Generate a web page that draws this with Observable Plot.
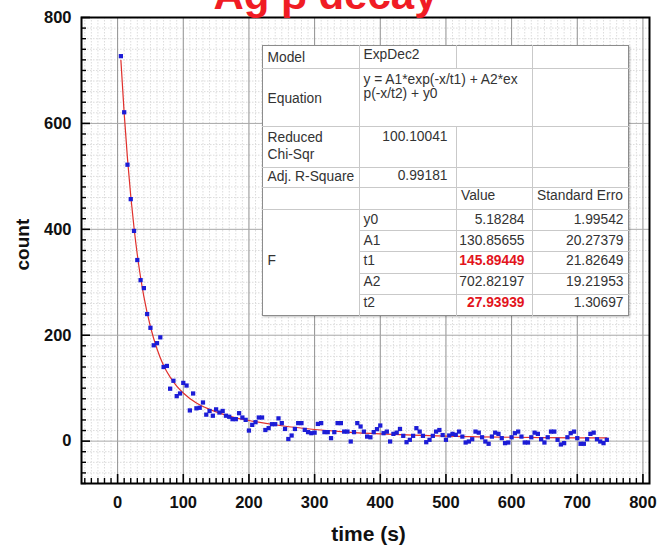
<!DOCTYPE html>
<html><head><meta charset="utf-8">
<script src="https://cdn.jsdelivr.net/npm/d3@7"></script>
<script src="https://cdn.jsdelivr.net/npm/@observablehq/plot@0.6"></script>
<style>
html,body{margin:0;padding:0;background:#fff;}
#wrap{position:relative;width:658px;height:549px;overflow:hidden;}
.cell{position:absolute;white-space:nowrap;font-family:"Liberation Sans",Arial,sans-serif;font-size:13.8px;color:#333;line-height:1;}
.ln{position:absolute;}
</style></head><body><div id="wrap"></div>
<script>
// ---- data ----
const times = [5,10,15,20,25,30,35,40,45,50,55,60,65,70,75,80,85,90,95,100,105,110,115,120,125,130,135,140,145,150,155,160,165,170,175,180,185,190,195,200,205,210,215,220,225,230,235,240,245,250,255,260,265,270,275,280,285,290,295,300,305,310,315,320,325,330,335,340,345,350,355,360,365,370,375,380,385,390,395,400,405,410,415,420,425,430,435,440,445,450,455,460,465,470,475,480,485,490,495,500,505,510,515,520,525,530,535,540,545,550,555,560,565,570,575,580,585,590,595,600,605,610,615,620,625,630,635,640,645,650,655,660,665,670,675,680,685,690,695,700,705,710,715,720,725,730,735,740,745];
const counts = [727,621,522,457,397,342,304,289,240,214,181,185,196,140,142,99,114,85,90,110,105,58,90,62,63,73,50,57,48,60,54,57,48,46,41.5,41.5,52.8,44.6,40.2,20,30.7,35.8,44.6,44.6,21,24.5,32,32,43,34,23,4,10.6,23,34,34,21.3,17,15,16,32.5,34,17,17,5.6,17,34,34,18,18,-0.7,17,34,27.6,18,8.6,7.3,17,22.6,29.5,15,18,-0.7,13.7,16,23,10,-2,2.5,10,24.5,18,10,-2,2.5,10,18,21,11.5,2.5,10.6,13.7,12,18,8.6,-2.6,-0.7,3.6,18,16,7.3,-0.7,-5,8.6,16,13.7,5.6,-3.8,-2.6,7.3,15,18,8.6,-2.6,-2.6,7.3,16,13.7,3.6,-2.6,7.3,18,18,2.5,-6.3,-3.8,7.3,15,18,5.6,-5,-5,3.6,13.7,16,3.6,-0.7,-3.8,2.5];
// fitted curve
const fitTimes = [5,10,15,20,25,30,35,40,50,60,70,80,90,100,120,140,160,180,200,250,300,350,400,450,500,550,600,650,700,745];
const fitCounts = [719,619,534,463,403,352,309,273,216,174,143,121,104,91,72,60,51,44,39,29,22,17,13.6,11.2,9.4,8.2,7.3,6.7,6.3,6.0];
const xTickLabels = [0,100,200,300,400,500,600,700,800];
const yTickLabels = [0,200,400,600,800];
const titleText = "Ag β decay";
const xLabel = "time (s)";
const yLabel = "count";
// fit report table
const fitModel = "ExpDec2";
const fitEquation = ["y = A1*exp(-x/t1) + A2*ex", "p(-x/t2) + y0"];
const redChiSqr = "100.10041";
const adjR2 = "0.99181";
const paramNames = ["y0","A1","t1","A2","t2"];
const paramValues = ["5.18284","130.85655","145.89449","702.82197","27.93939"];
const paramErrors = ["1.99542","20.27379","21.82649","19.21953","1.30697"];
const highlighted = ["t1","t2"];

// ---- chart ----
const W=658,H=549,mL=81,mR=9,mT=17,mB=66;
const xDom=[-55,810], yDom=[-80,800];
const pxY=(H-mT-mB)/(yDom[1]-yDom[0]);
const pxX=(W-mL-mR)/(xDom[1]-xDom[0]);
const pts = times.map((t,i)=>({t, c: counts[i]}));
const fit = fitTimes.map((t,i)=>({t, c: fitCounts[i]}));
const xMinor = d3.range(-50, 801, 10).filter(v=>v%100!==0);
const yMinor = d3.range(-80, 801, 20).filter(v=>v%200!==0);
const font = "'Liberation Sans', Arial, sans-serif";

const chart = Plot.plot({
  width: W, height: H,
  marginLeft: mL, marginRight: mR, marginTop: mT, marginBottom: mB,
  x: {domain: xDom}, y: {domain: yDom},
  style: {fontFamily: font, overflow: "visible", background: "#fff"},
  marks: [
    Plot.ruleX(xMinor, {stroke:"#dcdcdc", strokeDasharray:"1.5,1.5", strokeWidth:1}),
    Plot.ruleY(yMinor, {stroke:"#dcdcdc", strokeDasharray:"1.5,1.5", strokeWidth:1}),
    Plot.ruleX(xTickLabels, {stroke:"#8f8f8f", strokeWidth:1}),
    Plot.ruleY(yTickLabels, {stroke:"#a8a8a8", strokeWidth:1}),
    Plot.line(fit, {x:"t", y:"c", stroke:"#e0302c", strokeWidth:1.2, curve:"monotone-x"}),
    Plot.dot(pts, {x:"t", y:"c", symbol:"square", r:2.4, fill:"#1c1cd6", stroke:null}),
    Plot.ruleX(xTickLabels, {y1: yDom[0], y2: yDom[0]+9/pxY, stroke:"#000", strokeWidth:1.6}),
    Plot.ruleX(xMinor, {y1: yDom[0], y2: yDom[0]+5/pxY, stroke:"#000", strokeWidth:1.4}),
    Plot.ruleY(yTickLabels, {x1: xDom[0], x2: xDom[0]+9/pxX, stroke:"#000", strokeWidth:1.6}),
    Plot.ruleY(yMinor, {x1: xDom[0], x2: xDom[0]+5/pxX, stroke:"#000", strokeWidth:1.4}),
    Plot.frame({stroke:"#000", strokeWidth:2}),
    Plot.axisX(xTickLabels, {tickSize:0, tickPadding:13, fontSize:16.5, fontWeight:"bold", fill:"#111", label:null}),
    Plot.axisY(yTickLabels, {tickSize:0, tickPadding:10, fontSize:16.5, fontWeight:"bold", fill:"#111", label:null}),
    Plot.text([xLabel], {frameAnchor:"bottom", dx:3, dy:57, fontSize:21, fontWeight:"bold", fill:"#111"}),
    Plot.text([yLabel], {frameAnchor:"left", dx:-59, dy:20, rotate:-90, fontSize:19, fontWeight:"bold", fill:"#111"}),
    Plot.text([titleText], {frameAnchor:"top", dx:-40, dy:-9, lineAnchor:"bottom", fontSize:42, fontWeight:"bold", fill:"#f01c24"})
  ]
});
const wrap = document.getElementById("wrap");
wrap.appendChild(chart);

// ---- fit report table (HTML overlay) ----
const T = document.createElement("div");
T.style.cssText = "position:absolute;left:0;top:0;width:658px;height:549px;pointer-events:none;";
wrap.appendChild(T);
function box(x,y,w,h,bg,border){const d=document.createElement("div");d.className="ln";d.style.cssText=`left:${x}px;top:${y}px;width:${w}px;height:${h}px;background:${bg};${border||""}`;T.appendChild(d);}
function hl(x1,x2,y){box(x1,y,x2-x1,1,"#c9c9c9");}
function vl(x,y1,y2){box(x,y1,1,y2-y1,"#c9c9c9");}
function txt(s,x,cy,align,style){const d=document.createElement("div");d.className="cell";d.textContent=s;d.style.left=x+"px";d.style.top=(cy-6.7)+"px";if(align==="right")d.style.transform="translateX(-100%)";if(style)d.style.cssText+=style;T.appendChild(d);}
const L=262,R=629,Tp=45,B=316;
box(L,Tp,R-L,B-Tp,"#fff","box-sizing:border-box;border:1.3px solid #8c8c8c;box-shadow:1px 1px 2px rgba(0,0,0,0.25);");
[68,126,167,187,209].forEach(y=>hl(L,R,y));
[230,251,273,294].forEach(y=>hl(359,R,y));
vl(359,Tp,B); vl(456,Tp,68); vl(456,126,B); vl(532,Tp,B);
const cL=267.5, c2=363.5, rv2=447.5, rv3=524.5, rv4=623.5;
txt("Model",cL,57.5); txt(fitModel,c2,55);
txt("Equation",cL,98.5); txt(fitEquation[0],c2,79.5); txt(fitEquation[1],c2,93.5);
txt("Reduced",cL,137.5); txt("Chi-Sqr",cL,155); txt(redChiSqr,rv2,136.5,"right");
txt("Adj. R-Square",cL,177); txt(adjR2,rv2,175.5,"right");
txt("Value",461,196); txt("Standard Erro",537,196);
txt("F",cL,261);
const rowC=[220,240.5,261,282,303];
paramNames.forEach((p,i)=>{
  txt(p,c2,rowC[i]);
  const hi = highlighted.includes(p);
  txt(paramValues[i],rv3,rowC[i],"right", hi?"color:#e3141c;font-weight:bold;":"");
  txt(paramErrors[i],rv4,rowC[i],"right");
});
</script></body></html>
